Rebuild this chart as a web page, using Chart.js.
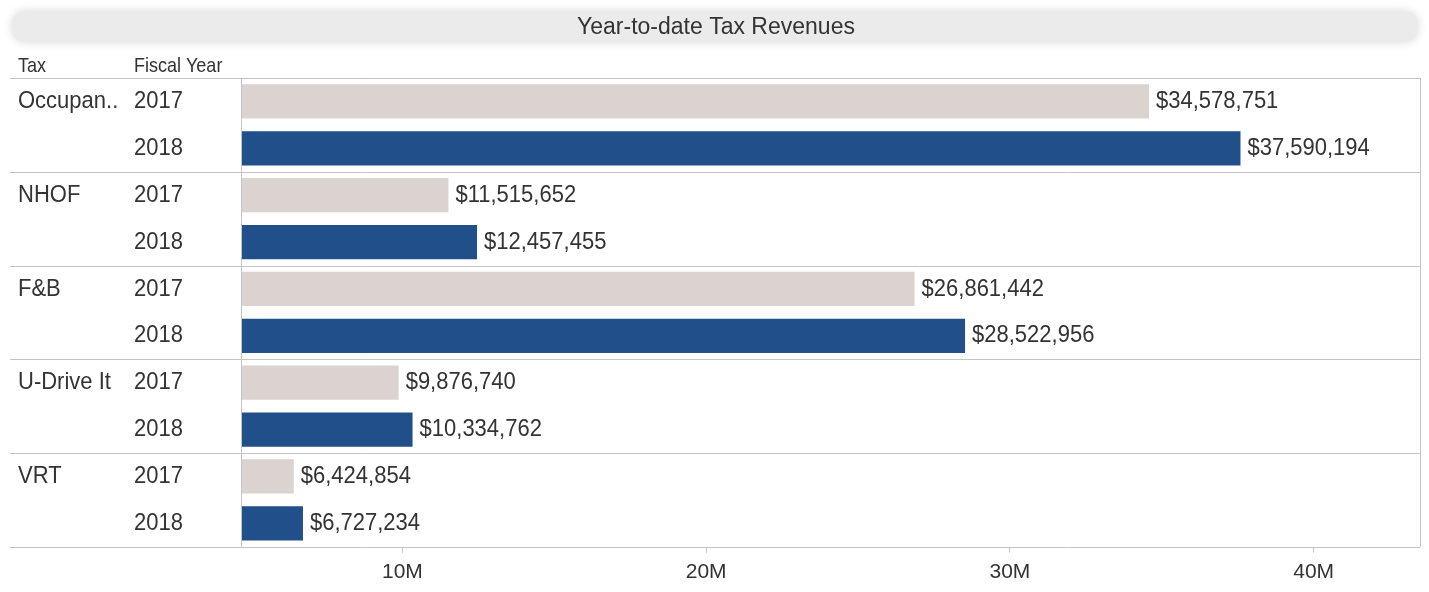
<!DOCTYPE html>
<html>
<head>
<meta charset="utf-8">
<script src="https://cdn.jsdelivr.net/npm/chart.js@4/dist/chart.umd.min.js"></script>
<style>
  html, body { margin: 0; padding: 0; background: #fff; }
  #wrap { width: 1429px; height: 592px; position: relative; }
</style>
</head>
<body>
<div id="wrap"><canvas id="taxChart"></canvas></div>
<script>
// ---- data ----
const taxes = ["Occupan..", "NHOF", "F&B", "U-Drive It", "VRT"];
const years = ["2017", "2018"];
const rev2017 = [34578751, 11515652, 26861442, 9876740, 6424854];
const rev2018 = [37590194, 12457455, 28522956, 10334762, 6727234];
const tickValues = [10000000, 20000000, 30000000, 40000000];
const tickLabels = ["10M", "20M", "30M", "40M"];

const COLOR_2017 = "#dad3d0";
const COLOR_2018 = "#204f89";
const LINE = "#c4c4c4";
const TEXT = "#333333";
const FONT = "Liberation Sans, Arial, sans-serif";
const STRETCH = 1.08; // source text is a bit taller than it is wide

// one row per tax + year
const rowLabels = [], rowValues = [], rowColors = [];
taxes.forEach((t, i) => {
  rowLabels.push(t + " " + years[0]); rowValues.push(rev2017[i]); rowColors.push(COLOR_2017);
  rowLabels.push(t + " " + years[1]); rowValues.push(rev2018[i]); rowColors.push(COLOR_2018);
});

const money = v => "$" + v.toLocaleString("en-US");

function tallText(ctx, str, x, y) {
  ctx.save();
  ctx.translate(x, y);
  ctx.scale(1, STRETCH);
  ctx.fillText(str, 0, 0);
  ctx.restore();
}

// ---- title banner, left header, separators, value labels ----
const decor = {
  id: "decor",
  beforeDraw(chart) {
    const { ctx, chartArea: a } = chart;
    ctx.save();
    // blurred grey title banner
    ctx.shadowColor = "rgba(0,0,0,0.15)";
    ctx.shadowBlur = 10;
    ctx.fillStyle = "#ebebeb";
    ctx.beginPath();
    ctx.roundRect(12, 11, a.right - 14, 31, 13);
    ctx.fill();
    ctx.restore();

    ctx.save();
    ctx.fillStyle = TEXT;
    ctx.textBaseline = "middle";
    ctx.font = "23px " + FONT;
    ctx.textAlign = "center";
    tallText(ctx, "Year-to-date Tax Revenues", 716, 27);

    ctx.font = "18px " + FONT;
    ctx.textAlign = "left";
    tallText(ctx, "Tax", 18, 67);
    tallText(ctx, "Fiscal Year", 134, 67);
    ctx.restore();
  },
  afterDatasetsDraw(chart) {
    const { ctx, chartArea: a, scales } = chart;
    const y = scales.y, x = scales.x;
    const rowH = y.getPixelForValue(1) - y.getPixelForValue(0);
    ctx.save();

    // frame + group separators
    ctx.strokeStyle = LINE;
    ctx.lineWidth = 1;
    ctx.beginPath();
    for (let g = 0; g <= taxes.length; g++) {
      const yy = Math.round(y.getPixelForValue(g * 2) - rowH / 2) + 0.5;
      ctx.moveTo(10, yy);
      ctx.lineTo(a.right, yy);
    }
    ctx.moveTo(Math.round(a.left) - 0.5, a.top);
    ctx.lineTo(Math.round(a.left) - 0.5, a.bottom);
    ctx.moveTo(Math.round(a.right) + 0.5, a.top);
    ctx.lineTo(Math.round(a.right) + 0.5, a.bottom);
    ctx.stroke();

    // left labels
    ctx.fillStyle = TEXT;
    ctx.font = "22px " + FONT;
    ctx.textBaseline = "middle";
    ctx.textAlign = "left";
    taxes.forEach((t, i) => {
      tallText(ctx, t, 18, y.getPixelForValue(i * 2));
      tallText(ctx, years[0], 134, y.getPixelForValue(i * 2));
      tallText(ctx, years[1], 134, y.getPixelForValue(i * 2 + 1));
    });

    // value labels
    rowValues.forEach((v, i) => {
      tallText(ctx, money(v), x.getPixelForValue(v) + 7, y.getPixelForValue(i));
    });
    ctx.restore();
  }
};

new Chart(document.getElementById("taxChart"), {
  type: "bar",
  data: {
    labels: rowLabels,
    datasets: [{
      data: rowValues,
      backgroundColor: rowColors,
      borderWidth: 0,
      barPercentage: 0.73,
      categoryPercentage: 1
    }]
  },
  options: {
    indexAxis: "y",
    animation: false,
    responsive: true,
    maintainAspectRatio: false,
    layout: { padding: { left: 242, right: 9, top: 78, bottom: 0 } },
    plugins: { legend: { display: false }, tooltip: { enabled: false } },
    scales: {
      y: { display: false },
      x: {
        min: 4720000,
        max: 43500000,
        afterBuildTicks: s => { s.ticks = tickValues.map(v => ({ value: v })); },
        grid: { drawOnChartArea: false, color: LINE, tickLength: 6 },
        border: { display: false },
        ticks: {
          color: TEXT,
          font: { family: FONT, size: 21 },
          padding: 7,
          maxRotation: 0,
          callback: (v) => tickLabels[tickValues.indexOf(v)] || ""
        }
      }
    }
  },
  plugins: [decor]
});
</script>
</body>
</html>
